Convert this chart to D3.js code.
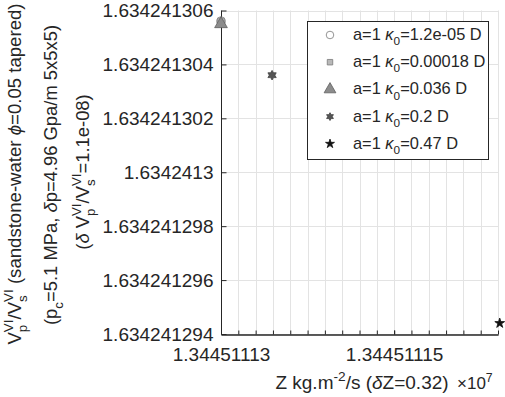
<!DOCTYPE html>
<html><head><meta charset="utf-8">
<script src="https://cdn.jsdelivr.net/npm/d3@7"></script>
<style>
body{margin:0;background:#fff;}
text{font-family:"Liberation Sans",Arial,Helvetica,sans-serif;fill:#262626;white-space:pre;}
</style></head>
<body><svg id="c" width="505" height="397"></svg>
<script>
// ---- data ----
const kappaLabels = ["1.2e-05","0.00018","0.036","0.2","0.47"];
const xValues = [1.34451113, 1.34451113, 1.34451113, 1.3445111359, 1.3445111622]; // x 1e7
const yValues = [1.6342413056, 1.6342413056, 1.6342413055, 1.6342413036, 1.6342412944];
const xTickValues = [1.34451113, 1.34451115];
const xMinorTicks = [1.34451113,1.344511132,1.344511134,1.344511136,1.344511138,1.34451114,1.344511142,1.344511144,1.344511146,1.344511148,1.34451115,1.344511152,1.344511154,1.344511156,1.344511158,1.34451116,1.344511162];
const yTickValues = [1.634241294,1.634241296,1.634241298,1.6342413,1.634241302,1.634241304,1.634241306];
const xDomain = [1.34451113, 1.344511162];
const yDomain = [1.634241294, 1.634241306];

const svg = d3.select("#c");
const L=221, R=498, T=10.5, B=334;
const x = d3.scaleLinear().domain(xDomain).range([L,R]);
const y = d3.scaleLinear().domain(yDomain).range([B,T]);

// grid
const grid = svg.append("g").attr("stroke","#e3e3e3").attr("stroke-width",1);
grid.selectAll("line.v").data(xMinorTicks).join("line")
  .attr("x1",d=>Math.round(x(d))+0.5).attr("x2",d=>Math.round(x(d))+0.5).attr("y1",T).attr("y2",B);
grid.selectAll("line.h").data(yTickValues).join("line")
  .attr("y1",d=>Math.round(y(d))+0.5).attr("y2",d=>Math.round(y(d))+0.5).attr("x1",L).attr("x2",R);

// axes
const fmtY = d => String(+d.toFixed(9));
const fmtX = d => String(+d.toFixed(8));
const yAx = svg.append("g").attr("transform",`translate(${L+0.5},0)`)
  .call(d3.axisLeft(y).tickValues(yTickValues).tickFormat(fmtY).tickSize(-5).tickPadding(8));
const xMin = svg.append("g").attr("transform",`translate(0,${B+0.5})`)
  .call(d3.axisBottom(x).tickValues(xMinorTicks).tickFormat("").tickSize(-4).tickSizeOuter(0));
const xAx = svg.append("g").attr("transform",`translate(0,${B+0.5})`)
  .call(d3.axisBottom(x).tickValues(xTickValues).tickFormat(fmtX).tickSize(-4).tickSizeOuter(0).tickPadding(13));
[yAx,xMin,xAx].forEach(a=>{
  a.attr("font-family",null).attr("font-size",null);
  a.selectAll("path,line").attr("stroke","#262626");
  a.selectAll("text").attr("font-size",19).attr("fill","#262626");
});
yAx.select(".domain").attr("d",`M0,${T}V${B}`);

// symbols
const hexagram = {draw(ctx,size){
  const r = Math.sqrt(size)*0.62, ri = r*0.58;
  for(let i=0;i<12;i++){
    const a = -Math.PI/2 + i*Math.PI/6, rr = i%2? ri : r;
    const px = rr*Math.cos(a), py = rr*Math.sin(a);
    if(i===0) ctx.moveTo(px,py); else ctx.lineTo(px,py);
  }
  ctx.closePath();
}};
const styles = [
  {type:d3.symbolCircle, size:60, fill:"#ffffff", stroke:"#7a7a7a"},
  {type:d3.symbolSquare, size:45, fill:"#b8b8b8", stroke:"#7a7a7a"},
  {type:d3.symbolTriangle, size:70, fill:"#8c8c8c", stroke:"#606060"},
  {type:hexagram, size:60, fill:"#555555", stroke:"#404040"},
  {type:d3.symbolStar, size:30, fill:"#111111", stroke:"#111111"}
];

// points
svg.append("g").selectAll("path").data(xValues).join("path")
  .attr("transform",(d,i)=>`translate(${x(d)},${y(yValues[i])})`)
  .attr("d",(d,i)=>d3.symbol(styles[i].type, styles[i].size)())
  .attr("fill",(d,i)=>styles[i].fill).attr("stroke",(d,i)=>styles[i].stroke).attr("stroke-width",0.8);

// rich text helper
function rich(parent, segs, fs, anchor){
  const g = parent.append("g");
  let cur = 0, lastStart = 0;
  segs.forEach(s=>{
    const small = s.k==="sup"||s.k==="sub";
    const size = small ? fs*0.72 : fs;
    const dy = s.k==="sup" ? -fs*0.42 : s.k==="sub" ? fs*0.32 : 0;
    let xs = cur;
    if(s.stack) xs = lastStart;
    const t = g.append("text").attr("x",xs).attr("y",dy).attr("font-size",size)
      .attr("xml:space","preserve").text(s.t);
    if(s.it) t.attr("font-style","italic");
    const w = t.node().getComputedTextLength();
    if(!s.stack) lastStart = xs;
    cur = Math.max(cur, xs + w);
  });
  if(anchor==="middle") g.selectAll("text").attr("x",function(){return +d3.select(this).attr("x") - cur/2;});
  return g;
}

// legend
const lg = svg.append("g");
lg.append("rect").attr("x",307.5).attr("y",21.5).attr("width",181).attr("height",138)
  .attr("fill","#fff").attr("stroke","#262626").attr("stroke-width",1);
const legSizes = [45,30,60,40,25];
kappaLabels.forEach((k,i)=>{
  const cy = 35 + i*27.2;
  lg.append("path").attr("transform",`translate(330,${cy})`)
    .attr("d",d3.symbol(styles[i].type, legSizes[i])())
    .attr("fill",styles[i].fill).attr("stroke",styles[i].stroke).attr("stroke-width",0.8);
  const g = rich(lg, [{t:"a=1 "},{t:"κ",it:true},{t:"0",k:"sub"},{t:"="+k+" D"}], 16.4);
  g.attr("transform",`translate(353,${cy+5})`);
});

// x label
const xl = rich(svg,[{t:"Z kg.m"},{t:"-2",k:"sup"},{t:"/s ("},{t:"δ",it:true},{t:"Z=0.32)"}],19,"middle");
xl.attr("transform","translate(362,389)");
const x7 = rich(svg,[{t:"×10"},{t:"7",k:"sup"}],17);
x7.attr("transform","translate(457,389)");

// y labels
const yl1 = rich(svg,[{t:"V"},{t:"VI",k:"sup"},{t:"p",k:"sub",stack:true},{t:"/V"},{t:"VI",k:"sup"},{t:"s",k:"sub",stack:true},
  {t:" (sandstone-water "},{t:"ϕ",it:true},{t:"=0.05 tapered)"}],18.6,"middle");
yl1.attr("transform","translate(21,174) rotate(-90)");
const yl2 = rich(svg,[{t:"(p"},{t:"c",k:"sub"},{t:"=5.1 MPa, "},{t:"δ",it:true},{t:"p=4.96 Gpa/m 5x5x5)"}],18.4,"middle");
yl2.attr("transform","translate(57,175) rotate(-90)");
const yl3 = rich(svg,[{t:"("},{t:"δ",it:true},{t:" V"},{t:"VI",k:"sup"},{t:"p",k:"sub",stack:true},{t:"/V"},{t:"VI",k:"sup"},{t:"s",k:"sub",stack:true},{t:"=1.1e-08)"}],18.4,"middle");
yl3.attr("transform","translate(89,172) rotate(-90)");
</script></body></html>
